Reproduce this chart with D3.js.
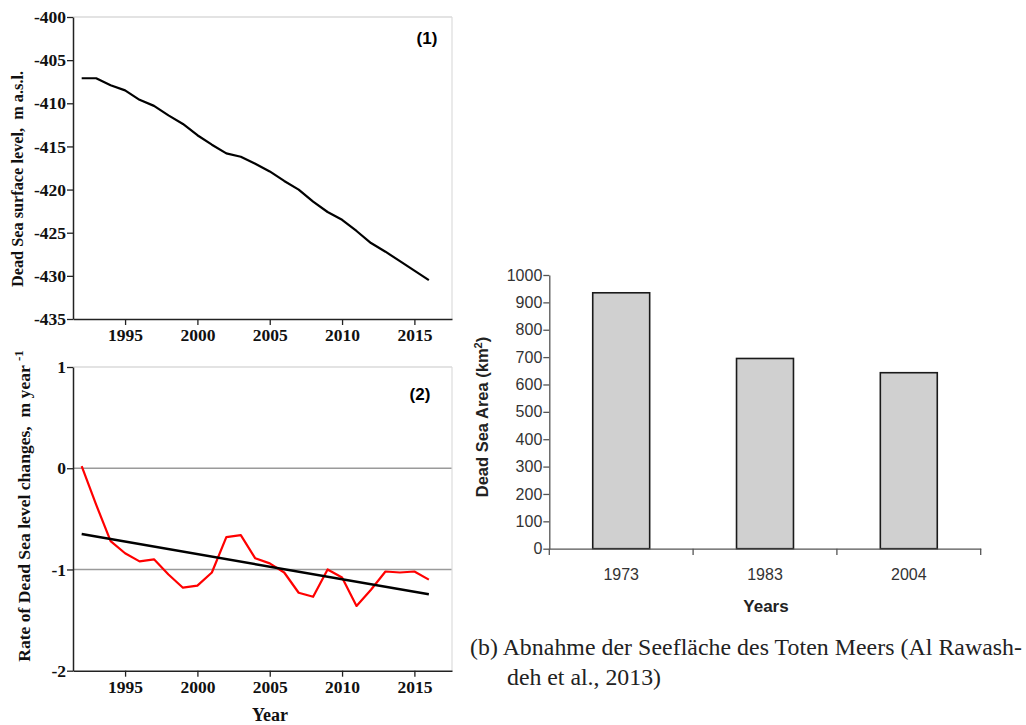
<!DOCTYPE html>
<html><head><meta charset="utf-8">
<script src="https://cdn.jsdelivr.net/npm/d3@7"></script>
<style>
html,body{margin:0;padding:0;background:#fff;}
svg{display:block;}
</style></head>
<body>
<svg id="c" width="1026" height="725"></svg>
<script>
// ---------- DATA ----------
const years = [1992,1993,1994,1995,1996,1997,1998,1999,2000,2001,2002,2003,2004,2005,2006,2007,2008,2009,2010,2011,2012,2013,2014,2015,2016];
const seaLevel = [-407.1,-407.1,-407.9,-408.5,-409.6,-410.3,-411.4,-412.4,-413.7,-414.8,-415.8,-416.2,-417.0,-417.9,-419.0,-420.0,-421.4,-422.6,-423.5,-424.8,-426.2,-427.2,-428.3,-429.4,-430.5];
const rateChange = [0.02,-0.36,-0.72,-0.84,-0.92,-0.90,-1.05,-1.18,-1.16,-1.03,-0.68,-0.66,-0.89,-0.94,-1.03,-1.23,-1.27,-1.00,-1.08,-1.36,-1.20,-1.02,-1.03,-1.02,-1.10];
const trendYears = [1992, 2016];
const trendValues = [-0.65, -1.245];
const yearTicks = [1995,2000,2005,2010,2015];
const levelTicks = [-400,-405,-410,-415,-420,-425,-430,-435];
const rateTicks = [1,0,-1,-2];
const rateGrid = [0,-1];
const areaCategories = ["1973","1983","2004"];
const areaValues = [935, 695, 643];
const areaTicks = [0,100,200,300,400,500,600,700,800,900,1000];

const svg = d3.select("#c");
const serifBold = "'Liberation Serif','Times New Roman',serif";
const sans = "'Liberation Sans',Arial,sans-serif";
const plain = d => String(d);

// ---------- shared x for left panels ----------
const xL = d3.scaleLinear().domain([1991.4, 2017.6]).range([73, 452]);

function leftPanel(yScale, yTicks) {
  const [x0, x1] = xL.range();
  const [yb, yt] = yScale.range();
  const g = svg.append("g");
  g.append("line").attr("x1", x0).attr("x2", x1).attr("y1", yt).attr("y2", yt).attr("stroke", "#c8c8c8").attr("stroke-width", 1.2);
  g.append("line").attr("x1", x1).attr("x2", x1).attr("y1", yt).attr("y2", yb).attr("stroke", "#dcdcdc").attr("stroke-width", 1.2);
  const ya = g.append("g").attr("transform", `translate(${x0},0)`)
    .call(d3.axisLeft(yScale).tickValues(yTicks).tickSize(6).tickSizeOuter(0).tickFormat(plain));
  ya.select(".domain").attr("stroke", "#222").attr("stroke-width", 1.5);
  ya.selectAll(".tick line").attr("stroke", "#222").attr("stroke-width", 1.3);
  ya.selectAll(".tick text").attr("font-family", serifBold).attr("font-weight", "bold").attr("font-size", 17.5).attr("fill", "#111").attr("x", -7);
  const xa = g.append("g").attr("transform", `translate(0,${yb})`)
    .call(d3.axisBottom(xL).tickValues(yearTicks).tickSize(6).tickSizeOuter(0).tickFormat(plain));
  xa.select(".domain").attr("stroke", "#222").attr("stroke-width", 1.5);
  xa.selectAll(".tick line").attr("stroke", "#222").attr("stroke-width", 1.3);
  xa.selectAll(".tick text").attr("font-family", serifBold).attr("font-weight", "bold").attr("font-size", 17.5).attr("fill", "#111").attr("y", 10);
  return g;
}

// ---------- Panel (1) ----------
const yTop = d3.scaleLinear().domain([-435, -400]).range([319, 17]);
const g1 = leftPanel(yTop, levelTicks);
g1.append("path")
  .datum(years.map((y, i) => [y, seaLevel[i]]))
  .attr("fill", "none").attr("stroke", "#000").attr("stroke-width", 2.2).attr("stroke-linejoin", "round")
  .attr("d", d3.line().x(d => xL(d[0])).y(d => yTop(d[1])));
g1.append("text").attr("x", 427).attr("y", 44).attr("text-anchor", "middle")
  .attr("font-family", sans).attr("font-weight", "bold").attr("font-size", 17).text("(1)");
g1.append("text").attr("transform", "translate(23,179) rotate(-90)").attr("text-anchor", "middle")
  .attr("font-family", serifBold).attr("font-weight", "bold").attr("font-size", 16.3).attr("fill", "#111")
  .attr("xml:space", "preserve").text("Dead Sea surface level,  m a.s.l.");

// ---------- Panel (2) ----------
const yBot = d3.scaleLinear().domain([-2, 1]).range([670.7, 367]);
const g2 = svg.append("g");
g2.selectAll("line.grid").data(rateGrid).join("line").attr("class", "grid")
  .attr("x1", xL.range()[0]).attr("x2", xL.range()[1])
  .attr("y1", d => yBot(d)).attr("y2", d => yBot(d))
  .attr("stroke", "#9a9a9a").attr("stroke-width", 1.5);
const g2b = leftPanel(yBot, rateTicks);
g2b.append("path")
  .datum(years.map((y, i) => [y, rateChange[i]]))
  .attr("fill", "none").attr("stroke", "#ff0000").attr("stroke-width", 2.2).attr("stroke-linejoin", "round")
  .attr("d", d3.line().x(d => xL(d[0])).y(d => yBot(d[1])));
g2b.append("path")
  .datum(trendYears.map((y, i) => [y, trendValues[i]]))
  .attr("fill", "none").attr("stroke", "#000").attr("stroke-width", 2.4)
  .attr("d", d3.line().x(d => xL(d[0])).y(d => yBot(d[1])));
g2b.append("text").attr("x", 420).attr("y", 400).attr("text-anchor", "middle")
  .attr("font-family", sans).attr("font-weight", "bold").attr("font-size", 17).text("(2)");
const yl2 = g2b.append("text").attr("transform", "translate(30,506) rotate(-90)").attr("text-anchor", "middle")
  .attr("font-family", serifBold).attr("font-weight", "bold").attr("font-size", 17.6).attr("fill", "#111")
  .attr("xml:space", "preserve");
yl2.append("tspan").text("Rate of Dead Sea level changes,  m year ");
yl2.append("tspan").attr("dy", -7).attr("font-size", 13).text("-1");
g2b.append("text").attr("x", 270).attr("y", 721).attr("text-anchor", "middle")
  .attr("font-family", serifBold).attr("font-weight", "bold").attr("font-size", 18).attr("fill", "#111").text("Year");

// ---------- Bar chart (b) ----------
const xB = d3.scaleBand().domain(areaCategories).range([549.3, 980.7]).paddingInner(0.604).paddingOuter(0.302);
const yB = d3.scaleLinear().domain([0, 1000]).range([548.7, 275]);
const gb = svg.append("g");
gb.selectAll("rect").data(areaCategories).join("rect")
  .attr("x", d => xB(d)).attr("width", xB.bandwidth())
  .attr("y", (d, i) => yB(areaValues[i])).attr("height", (d, i) => yB(0) - yB(areaValues[i]))
  .attr("fill", "#d0d0d0").attr("stroke", "#1a1a1a").attr("stroke-width", 1.6);
const yaB = gb.append("g").attr("transform", "translate(549.3,0)")
  .call(d3.axisLeft(yB).tickValues(areaTicks).tickSize(6).tickSizeOuter(0).tickFormat(plain));
yaB.select(".domain").attr("stroke", "#555").attr("stroke-width", 1.3);
yaB.selectAll(".tick line").attr("stroke", "#555").attr("stroke-width", 1.3);
yaB.selectAll(".tick text").attr("font-family", sans).attr("font-size", 16).attr("fill", "#333").attr("x", -7);
const xaB = gb.append("g").attr("transform", "translate(0,548.7)")
  .call(d3.axisBottom(xB).tickSize(0).tickSizeOuter(0));
xaB.select(".domain").attr("stroke", "#555").attr("stroke-width", 1.3);
xaB.selectAll(".tick text").attr("font-family", sans).attr("font-size", 16).attr("fill", "#333").attr("y", 20);
const sep = areaCategories.map(c => xB(c) - xB.step() * xB.paddingInner() / 2).concat([xB.range()[1]]);
gb.selectAll("line.sep").data(sep).join("line").attr("class", "sep")
  .attr("x1", d => d).attr("x2", d => d).attr("y1", 548.7).attr("y2", 555)
  .attr("stroke", "#555").attr("stroke-width", 1.3);
gb.append("text").attr("x", 766).attr("y", 612).attr("text-anchor", "middle")
  .attr("font-family", sans).attr("font-weight", "bold").attr("font-size", 17).attr("fill", "#222").text("Years");
const ylB = gb.append("text").attr("transform", "translate(488,417) rotate(-90)").attr("text-anchor", "middle")
  .attr("font-family", sans).attr("font-weight", "bold").attr("font-size", 16.5).attr("fill", "#222");
ylB.append("tspan").text("Dead Sea Area (km");
ylB.append("tspan").attr("dy", -6).attr("font-size", 11).text("2");
ylB.append("tspan").attr("dy", 6).text(")");

// ---------- Caption ----------
const cap = svg.append("g").attr("font-family", "'Liberation Serif','Times New Roman',serif").attr("font-size", 23.8).attr("fill", "#222");
cap.append("text").attr("x", 470).attr("y", 655).attr("textLength", 552).attr("lengthAdjust", "spacing").text("(b) Abnahme der Seefläche des Toten Meers (Al Rawash-");
cap.append("text").attr("x", 507).attr("y", 685).text("deh et al., 2013)");
</script>
</body></html>
